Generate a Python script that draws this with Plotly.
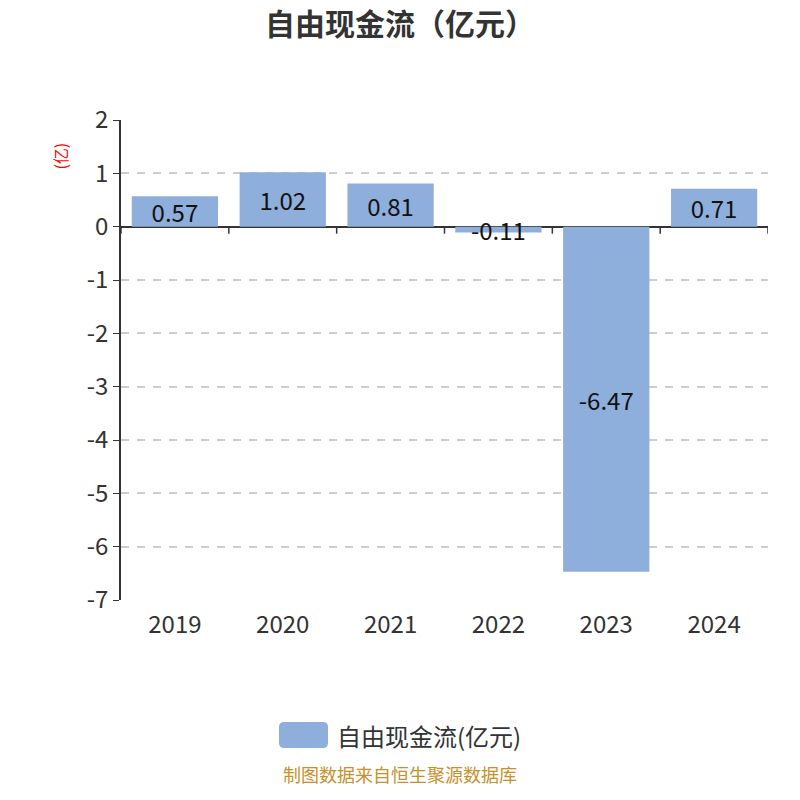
import plotly.graph_objects as go

# 自由现金流 data (亿元)
years = ["2019", "2020", "2021", "2022", "2023", "2024"]
fcf = [0.57, 1.02, 0.81, -0.11, -6.47, 0.71]
labels = ["0.57", "1.02", "0.81", "-0.11", "-6.47", "0.71"]
y_ticks = [2, 1, 0, -1, -2, -3, -4, -5, -6, -7]
y_tick_text = ["2", "1", "0", "-1", "-2", "-3", "-4", "-5", "-6", "-7"]

bar_color = "#8EAEDB"
font = "Noto Sans CJK SC"

fig = go.Figure()
fig.add_trace(go.Bar(
    x=years, y=fcf, name="自由现金流(亿元)",
    marker=dict(color=bar_color, line=dict(width=0)),
    text=labels, textposition="inside", insidetextanchor="middle",
    textfont=dict(size=24, color="#111"),
    cliponaxis=False, hoverinfo="skip", showlegend=False,
))

# small downward ticks on the zero line between categories
for i in range(len(years) + 1):
    fig.add_shape(type="line", xref="x", yref="y", ysizemode="pixel",
                  yanchor=0, x0=i - 0.5, x1=i - 0.5, y0=0, y1=-7,
                  line=dict(color="#333", width=1.5))

# legend swatch (rounded rectangle)
fig.add_shape(type="path", xref="paper", yref="paper",
              xsizemode="pixel", ysizemode="pixel",
              xanchor=0.2821, yanchor=-0.28125,
              path="M -19.5,-13 L 19.5,-13 Q 24.5,-13 24.5,-8 L 24.5,8 "
                   "Q 24.5,13 19.5,13 L -19.5,13 Q -24.5,13 -24.5,8 "
                   "L -24.5,-8 Q -24.5,-13 -19.5,-13 Z",
              fillcolor=bar_color, line=dict(width=0))

fig.update_layout(
    width=800, height=800,
    paper_bgcolor="white", plot_bgcolor="white",
    font=dict(family=font, color="#333"),
    title=dict(text="<b>自由现金流（亿元）</b>", x=0.49, y=1,
               xanchor="center", yanchor="top", pad=dict(t=6),
               font=dict(size=30, color="#333")),
    margin=dict(l=113, r=40, t=112, b=208),
    bargap=0.2,
    showlegend=False,
    uniformtext=dict(minsize=24, mode="show"),
    annotations=[
        dict(text="(亿)", textangle=-90, xref="paper", yref="paper",
             x=-0.116, y=0.958, showarrow=False,
             font=dict(size=16, color="red")),
        dict(text="自由现金流(亿元)", xref="paper", yref="paper",
             x=0.331, y=-0.28125, xanchor="left", yanchor="middle",
             showarrow=False, font=dict(size=24, color="#333")),
        dict(text="制图数据来自恒生聚源数据库", xref="paper", yref="paper",
             x=0.4312, y=-0.394, showarrow=False,
             font=dict(size=18, color="#C8902A")),
    ],
)
fig.update_xaxes(showgrid=False, showline=False, ticks="", zeroline=False,
                 tickfont=dict(size=24, color="#333"), ticklabelstandoff=8,
                 range=[-0.5, 5.5])
fig.update_yaxes(range=[-7, 2], tickvals=y_ticks, ticktext=y_tick_text,
                 showgrid=True, gridcolor="#cccccc", griddash="8px,8px",
                 gridwidth=2,
                 showline=True, linecolor="#333", linewidth=1.5,
                 ticks="outside", ticklen=6, tickcolor="#333",
                 tickfont=dict(size=24, color="#333"),
                 zeroline=True, zerolinecolor="#333", zerolinewidth=1.5)

fig.write_html("out.html")
